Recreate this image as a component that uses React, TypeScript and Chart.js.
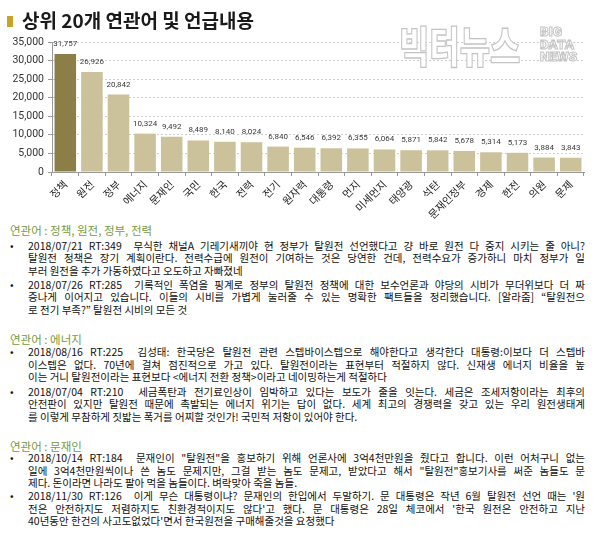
import React, { useEffect, useRef } from "react";
import { Chart, registerables } from "chart.js";

Chart.register(...registerables);

// ---------- chart data ----------
const categories = [
  "정책", "원전", "정부", "에너지", "문재인", "국민", "한국", "전력", "전기", "원자력",
  "대통령", "먼지", "미세먼지", "태양광", "석탄", "문재인정부", "경제", "한전", "의원", "문제",
];
const mentionCounts = [
  31757, 26926, 20842, 10324, 9492, 8489, 8140, 8024, 6840, 6546,
  6392, 6355, 6064, 5871, 5842, 5678, 5314, 5173, 3884, 3843,
];
const yAxisMax = 35000;
const yAxisStep = 5000;

// ---------- text content ----------
const chartTitle = "상위 20개 연관어 및 언급내용";
const section1Heading = "연관어 : 정책, 원전, 정부, 전력";
const section1Post1 = [
  "2018/07/21 RT:349\u00a0 무식한 채널A 기레기새끼야 현 정부가 탈원전 선언했다고 걍 바로 원전 다 중지 시키는 줄 아니?",
  "탈원전 정책은 장기 계획이란다. 전력수급에 원전이 기여하는 것은 당연한 건데, 전력수요가 증가하니 마치 정부가 일",
  "부러 원전을 추가 가동하였다고 오도하고 자빠졌네",
];
const section1Post2 = [
  "2018/07/26 RT:285\u00a0 기록적인 폭염을 핑계로 정부의 탈원전 정책에 대한 보수언론과 야당의 시비가 무더위보다 더 짜",
  "증나게 이어지고 있습니다. 이들의 시비를 가볍게 눌러줄 수 있는 명확한 팩트들을 정리했습니다. [알라줌] \u201c탈원전으",
  "로 전기 부족?\u201d 탈원전 시비의 모든 것",
];
const section2Heading = "연관어 : 에너지";
const section2Post1 = [
  "2018/08/16 RT:225\u00a0 김성태: 한국당은 탈원전 관련 스텝바이스텝으로 해야한다고 생각한다 대통령:이보다 더 스텝바",
  "이스텝은 없다. 70년에 걸쳐 점진적으로 가고 있다. 탈원전이라는 표현부터 적절하지 않다. 신재생 에너지 비율을 높",
  "이는 거니 탈원전이라는 표현보다 <에너지 전환 정책>이라고 네이밍하는게 적절하다",
];
const section2Post2 = [
  "2018/07/04 RT:210\u00a0 세금폭탄과 전기료인상이 임박하고 있다는 보도가 줄을 잇는다. 세금은 조세저항이라는 최후의",
  "안전판이 있지만 탈원전 때문에 촉발되는 에너지 위기는 답이 없다. 세계 최고의 경쟁력을 갖고 있는 우리 원전생태계",
  "를 이렇게 무참하게 짓밟는 폭거를 어찌할 것인가! 국민적 저항이 있어야 한다.",
];
const section3Heading = "연관어 : 문재인";
const section3Post1 = [
  "2018/10/14 RT:184\u00a0 문재인이 \"탈원전\"을 홍보하기 위해 언론사에 3억4천만원을 줬다고 합니다. 이런 어처구니 없는",
  "일에 3억4천만원씩이나 쓴 놈도 문제지만, 그걸 받는 놈도 문제고, 받았다고 해서 \"탈원전\"홍보기사를 써준 놈들도 문",
  "제다. 돈이라면 나라도 팔아 먹을 놈들이다. 벼락맞아 죽을 놈들.",
];
const section3Post2 = [
  "2018/11/30 RT:126\u00a0 이게 무슨 대통령이냐? 문재인의 한입에서 두말하기. 문 대통령은 작년 6월 탈원전 선언 때는 '원",
  "전은 안전하지도 저렴하지도 친환경적이지도 않다'고 했다. 문 대통령은 28일 체코에서 '한국 원전은 안전하고 지난",
  "40년동안 한건의 사고도없었다'면서 한국원전을 구매해줄것을 요청했다",
];

// ---------- styles ----------
const KR = '"Noto Sans CJK KR", "Noto Sans", sans-serif';
const NUM = 'Roboto, "Noto Sans", sans-serif';
const HIGHLIGHT = "#8b7e47";
const BAR = "#cbc29c";
const GREEN = "#789a3c";
const LINE_H = 12.5;

const valueLabelPlugin = {
  id: "valueLabels",
  afterDatasetsDraw(chart: any) {
    const { ctx } = chart;
    const meta = chart.getDatasetMeta(0);
    const data = chart.data.datasets[0].data as number[];
    ctx.save();
    ctx.font = `8px ${NUM}`;
    ctx.fillStyle = "#3a3a3a";
    ctx.textAlign = "center";
    ctx.textBaseline = "middle";
    meta.data.forEach((bar: any, i: number) => {
      ctx.fillText(data[i].toLocaleString("en-US"), bar.x, bar.y - 10);
    });
    ctx.restore();
  },
};

function Post({ top, lines }: { top: number; lines: string[] }) {
  return (
    <div style={{ position: "absolute", left: 0, top: top - LINE_H / 2, width: 600 }}>
      <div
        style={{
          position: "absolute",
          left: 10,
          top: 0,
          fontSize: 10.5,
          lineHeight: `${LINE_H}px`,
        }}
      >
        •
      </div>
      <div style={{ position: "absolute", left: 28, top: 0, width: 557 }}>
        {lines.map((ln, i) => (
          <div
            key={i}
            style={{
              whiteSpace: "nowrap",
              height: LINE_H,
              lineHeight: `${LINE_H}px`,
              textAlign: "justify",
              textAlignLast: i < lines.length - 1 ? "justify" : "left",
            } as React.CSSProperties}
          >
            {ln}
          </div>
        ))}
      </div>
    </div>
  );
}

function Heading({ top, text }: { top: number; text: string }) {
  return (
    <div
      style={{
        position: "absolute",
        left: 10,
        top: top - 8,
        height: 16,
        lineHeight: "16px",
        fontSize: 11.5,
        color: GREEN,
        whiteSpace: "nowrap",
      }}
    >
      {text}
    </div>
  );
}

export default function App() {
  const canvasRef = useRef<HTMLCanvasElement>(null);

  useEffect(() => {
    const canvas = canvasRef.current;
    if (!canvas) return;
    const chart = new Chart(canvas, {
      type: "bar",
      data: {
        labels: categories,
        datasets: [
          {
            data: mentionCounts,
            backgroundColor: mentionCounts.map((_, i) => (i === 0 ? HIGHLIGHT : BAR)),
            borderWidth: 0,
            barPercentage: 0.81,
            categoryPercentage: 1,
          },
        ],
      },
      options: {
        animation: false,
        responsive: false,
        maintainAspectRatio: false,
        layout: { padding: { top: 42, right: 16, left: 0, bottom: 0 } },
        plugins: {
          legend: { display: false },
          tooltip: { enabled: false },
        },
        scales: {
          x: {
            ticks: {
              font: { family: KR, size: 10.5 },
              color: "#222",
              maxRotation: 45,
              minRotation: 45,
              autoSkip: false,
              padding: 2,
            },
            grid: {
              drawOnChartArea: false,
              drawTicks: true,
              tickLength: 4,
              tickColor: "#999",
              offset: true,
            },
            border: { display: true, color: "#999" },
            afterFit: (s: any) => {
              s.height = 48;
            },
          },
          y: {
            min: 0,
            max: yAxisMax,
            ticks: {
              stepSize: yAxisStep,
              font: { family: NUM, size: 10.5 },
              color: "#333",
              padding: 4,
              callback: (v: any) => Number(v).toLocaleString("en-US"),
            },
            grid: {
              color: "#cfcfcf",
              tickColor: "#999",
              tickLength: 4,
              lineWidth: 1,
            },
            border: { display: true, color: "#999", dash: [2, 2] },
            afterFit: (s: any) => {
              s.width = 52;
            },
          },
        },
      },
      plugins: [valueLabelPlugin],
    });
    return () => chart.destroy();
  }, []);

  const stroke = "1px #c4c4c4";

  return (
    <div
      style={{
        position: "absolute",
        left: 0,
        top: 0,
        width: 600,
        height: 540,
        background: "#fff",
        overflow: "hidden",
        fontFamily: KR,
        color: "#222",
      }}
    >
      <canvas
        ref={canvasRef}
        width={600}
        height={220}
        style={{ position: "absolute", left: 0, top: 0, width: 600, height: 220 }}
      />
      {/* watermark */}
      <div
        style={{
          position: "absolute",
          left: 399,
          top: 24,
          fontSize: 33,
          fontWeight: 900,
          lineHeight: 1,
          color: "#fff",
          WebkitTextStroke: stroke,
          transform: "scaleY(1.3)",
          transformOrigin: "top left",
          whiteSpace: "nowrap",
        } as React.CSSProperties}
      >
        빅터뉴스
      </div>
      <div
        style={{
          position: "absolute",
          left: 540,
          top: 25,
          fontSize: 13.5,
          fontWeight: 900,
          lineHeight: "12.7px",
          fontFamily: NUM,
          color: "#fff",
          WebkitTextStroke: stroke,
        } as React.CSSProperties}
      >
        <div>BIG</div>
        <div>DATA</div>
        <div>NEWS</div>
      </div>
      {/* title */}
      <div
        style={{
          position: "absolute",
          left: 7,
          top: 16,
          width: 6,
          height: 11,
          background: "#c9a227",
        }}
      />
      <div
        style={{
          position: "absolute",
          left: 22,
          top: 8,
          fontSize: 19,
          fontWeight: 700,
          lineHeight: "24px",
          color: "#1a1a1a",
          whiteSpace: "nowrap",
        }}
      >
        {chartTitle}
      </div>
      {/* body text */}
      <div style={{ fontSize: 10.5, color: "#111" }}>
        <Heading top={230} text={section1Heading} />
        <Post top={246} lines={section1Post1} />
        <Post top={285} lines={section1Post2} />
        <Heading top={339} text={section2Heading} />
        <Post top={352.5} lines={section2Post1} />
        <Post top={392} lines={section2Post2} />
        <Heading top={446} text={section3Heading} />
        <Post top={458.5} lines={section3Post1} />
        <Post top={496.5} lines={section3Post2} />
      </div>
    </div>
  );
}
